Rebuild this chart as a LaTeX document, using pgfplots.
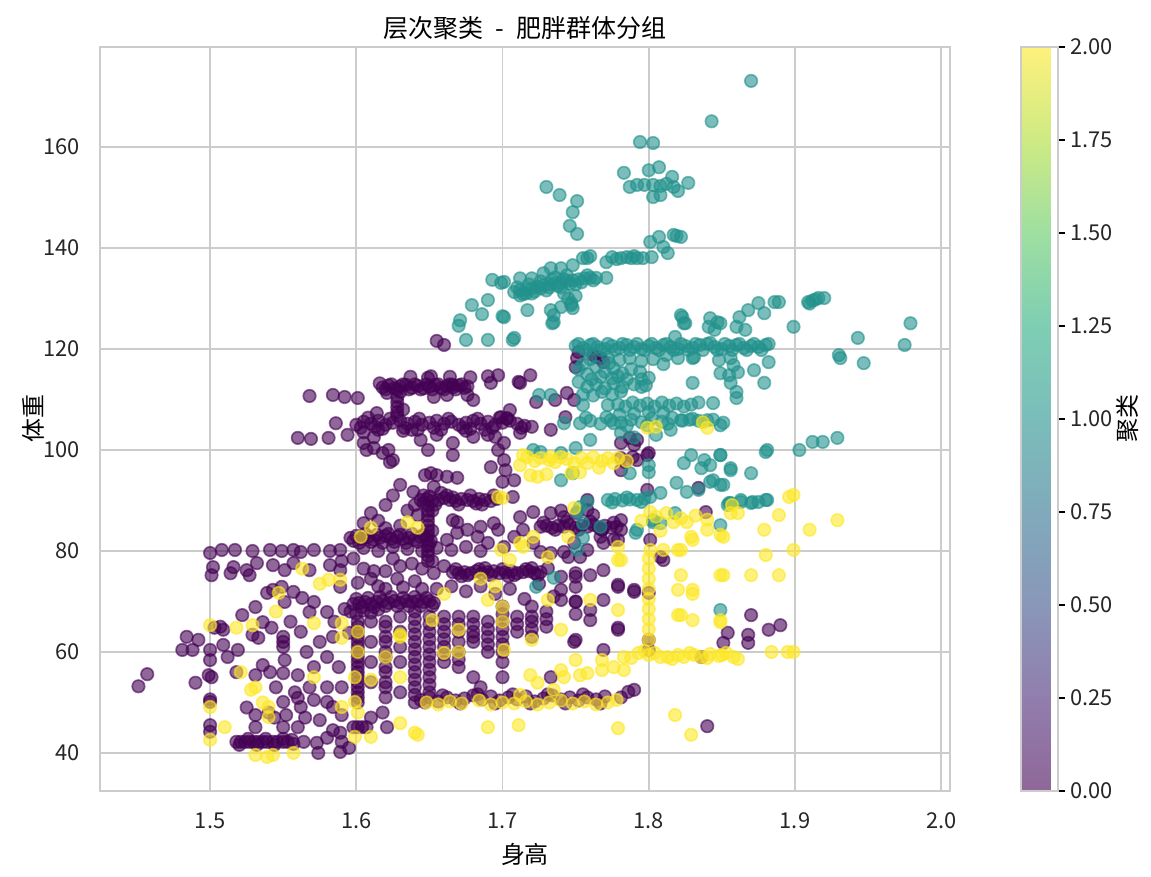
\documentclass[border=0pt]{standalone}
\usepackage{fontspec}
\setmainfont{Noto Sans CJK SC}
\usepackage{pgfplots}
\pgfplotsset{compat=1.18}
\usepackage{pgfplotstable}

\definecolor{vpurple}{HTML}{440154}
\definecolor{vteal}{HTML}{21918C}
\definecolor{vyellow}{HTML}{FDE725}
\definecolor{gridgray}{HTML}{CCCCCC}

% viridis seen through alpha 0.6 on white, as in the colorbar
\pgfplotsset{colormap={viridisfaded}{
  rgb255=(143,103,152) rgb255=(145,126,174) rgb255=(137,151,185)
  rgb255=(128,170,187) rgb255=(122,189,186) rgb255=(126,206,179)
  rgb255=(158,223,161) rgb255=(206,234,131) rgb255=(254,241,124)}}

% cluster 0
\pgfplotstableread{
x y
1.451 53.2
1.457 55.6
1.481 60.4
1.484 63.0
1.488 60.4
1.492 62.4
1.490 53.9
1.500 60.4
1.500 58.4
1.499 55.4
1.501 55.0
1.500 50.1
1.500 50.6
1.500 45.5
1.500 44.2
1.503 64.8
1.507 65.0
1.509 64.4
1.509 61.4
1.512 59.0
1.519 60.4
1.518 56.0
1.531 55.4
1.531 68.9
1.522 67.3
1.536 65.9
1.542 64.8
1.529 63.4
1.533 62.8
1.536 57.4
1.541 56.0
1.502 76.8
1.501 75.2
1.516 76.8
1.514 75.6
1.525 76.2
1.527 75.2
1.532 77.6
1.543 77.2
1.551 76.2
1.557 77.6
1.568 76.2
1.582 77.2
1.589 76.2
1.601 73.7
1.589 72.9
1.539 71.7
1.543 72.3
1.549 72.9
1.551 69.9
1.557 71.9
1.563 70.7
1.571 69.9
1.568 67.9
1.580 67.9
1.550 63.0
1.550 62.0
1.550 61.0
1.551 58.4
1.550 55.8
1.560 55.4
1.571 57.0
1.580 59.0
1.584 63.0
1.595 63.8
1.580 53.0
1.590 53.0
1.571 50.5
1.580 50.1
1.584 49.1
1.550 50.1
1.560 50.9
1.562 49.1
1.550 45.1
1.560 45.1
1.531 45.1
1.531 47.5
1.525 49.0
1.540 48.0
1.544 47.0
1.552 47.5
1.565 47.0
1.575 46.5
1.590 47.5
1.610 47.0
1.618 48.0
1.518 42.2
1.521 42.2
1.524 42.2
1.527 42.2
1.530 42.2
1.533 42.2
1.536 42.2
1.539 42.2
1.543 42.2
1.546 42.2
1.550 42.2
1.553 42.2
1.557 41.8
1.564 42.2
1.573 42.0
1.574 40.0
1.589 40.2
1.590 42.2
1.584 44.5
1.589 44.0
1.598 45.1
1.601 45.1
1.604 45.1
1.607 45.1
1.621 45.1
1.595 41.0
1.580 43.0
1.520 41.6
1.526 42.8
1.532 41.6
1.538 42.8
1.544 41.6
1.550 42.8
1.556 42.6
1.500 79.6
1.508 80.2
1.517 80.2
1.529 80.0
1.541 80.2
1.549 80.0
1.557 80.2
1.562 79.8
1.571 80.2
1.582 80.0
1.589 80.2
1.598 78.5
1.590 78.0
1.596 82.6
1.600 83.0
1.604 82.4
1.608 82.8
1.612 82.2
1.616 82.6
1.620 83.0
1.624 82.4
1.628 82.8
1.632 82.4
1.636 82.6
1.640 82.2
1.644 82.8
1.648 82.4
1.651 82.0
1.598 82.0
1.602 81.6
1.606 83.4
1.610 81.8
1.614 83.2
1.618 81.6
1.622 83.4
1.626 81.8
1.630 83.2
1.634 81.6
1.638 83.4
1.642 81.8
1.646 83.2
1.650 81.4
1.605 80.6
1.615 80.0
1.625 80.8
1.635 80.4
1.645 80.0
1.655 80.6
1.665 80.2
1.675 80.8
1.685 80.0
1.598 69.5
1.602 69.7
1.606 69.9
1.610 69.5
1.614 69.9
1.618 70.1
1.622 69.7
1.626 70.1
1.630 69.7
1.634 70.1
1.638 69.9
1.642 70.1
1.646 69.9
1.650 70.1
1.653 69.7
1.600 70.5
1.604 68.9
1.608 70.7
1.612 68.9
1.616 70.9
1.620 69.1
1.624 70.9
1.628 69.1
1.632 70.7
1.636 69.1
1.640 70.9
1.644 69.1
1.648 70.7
1.652 69.1
1.596 68.0
1.600 67.6
1.605 68.2
1.610 67.8
1.615 68.4
1.601 66.0
1.601 65.0
1.601 64.0
1.601 63.0
1.601 62.0
1.601 61.0
1.601 60.0
1.601 59.0
1.601 58.0
1.601 57.0
1.601 56.0
1.601 55.0
1.601 54.0
1.601 53.0
1.601 52.0
1.601 51.0
1.601 50.0
1.610 66.0
1.610 62.0
1.610 58.0
1.610 54.0
1.620 66.0
1.620 65.0
1.620 63.0
1.620 62.0
1.620 60.0
1.620 59.0
1.620 57.0
1.620 56.0
1.620 54.0
1.620 53.0
1.620 51.0
1.630 67.0
1.630 64.0
1.630 61.0
1.630 58.0
1.630 52.0
1.640 68.0
1.640 66.5
1.640 65.0
1.640 63.5
1.640 62.0
1.640 60.5
1.640 59.0
1.640 57.5
1.640 56.0
1.640 54.5
1.640 53.0
1.640 51.5
1.640 50.0
1.650 67.0
1.650 65.5
1.650 64.0
1.650 62.5
1.650 61.0
1.650 59.5
1.650 58.0
1.650 56.5
1.650 55.0
1.650 53.5
1.650 52.0
1.660 67.0
1.660 65.5
1.660 64.0
1.660 62.5
1.660 61.0
1.660 59.5
1.660 58.0
1.670 67.0
1.670 65.5
1.670 64.0
1.670 62.0
1.670 60.0
1.670 58.5
1.670 57.0
1.680 67.0
1.680 65.5
1.680 64.0
1.680 63.0
1.680 62.0
1.690 66.0
1.690 64.5
1.690 63.0
1.690 61.5
1.690 60.0
1.700 69.0
1.700 67.5
1.700 66.0
1.700 64.5
1.700 63.0
1.700 61.5
1.700 60.0
1.700 58.0
1.710 67.0
1.710 65.5
1.710 64.0
1.720 69.0
1.720 66.0
1.720 64.5
1.720 63.0
1.730 68.0
1.730 66.5
1.730 65.0
1.740 74.9
1.740 72.3
1.740 70.3
1.750 74.9
1.750 72.9
1.750 70.0
1.750 67.5
1.750 62.4
1.760 68.3
1.760 66.3
1.769 70.3
1.769 60.4
1.779 72.9
1.779 64.4
1.779 64.8
1.790 71.9
1.800 71.7
1.800 62.4
1.800 60.4
1.555 66.0
1.562 64.0
1.566 60.0
1.575 62.0
1.585 66.0
1.592 68.5
1.588 57.0
1.568 53.0
1.558 52.0
1.545 53.0
1.666 75.8
1.670 75.6
1.674 75.8
1.678 75.6
1.682 76.0
1.686 75.6
1.690 75.8
1.694 76.0
1.698 75.6
1.702 75.8
1.706 76.0
1.710 75.6
1.714 75.8
1.718 76.0
1.722 75.6
1.726 75.8
1.668 76.4
1.676 75.2
1.684 76.4
1.692 75.2
1.700 76.4
1.708 75.2
1.716 76.4
1.724 75.2
1.672 75.0
1.688 76.6
1.704 75.0
1.720 76.6
1.640 74.0
1.645 76.5
1.630 77.0
1.620 76.0
1.610 74.5
1.655 72.5
1.665 73.0
1.675 72.0
1.685 73.0
1.695 71.5
1.705 72.5
1.715 70.5
1.725 73.5
1.735 71.0
1.620 72.5
1.632 72.8
1.605 76.5
1.653 75.6
1.612 76.0
1.625 78.5
1.638 77.5
1.652 78.0
1.615 73.0
1.628 74.5
1.645 72.5
1.660 77.0
1.726 79.8
1.733 79.6
1.745 78.8
1.753 78.8
1.731 76.6
1.760 75.2
1.769 76.2
1.750 75.6
1.779 73.3
1.790 72.3
1.810 78.2
1.726 84.8
1.730 85.0
1.734 84.6
1.738 85.0
1.742 84.8
1.746 85.2
1.750 84.6
1.754 85.0
1.758 84.8
1.762 85.2
1.766 84.6
1.770 85.0
1.774 84.6
1.778 84.8
1.728 85.6
1.736 84.2
1.744 85.8
1.752 84.2
1.760 85.8
1.768 84.2
1.776 85.6
1.781 86.1
1.781 84.2
1.779 82.2
1.769 81.6
1.758 80.2
1.749 81.6
1.742 79.8
1.721 81.6
1.714 84.2
1.708 82.8
1.701 80.8
1.697 84.2
1.690 81.6
1.683 82.8
1.676 84.2
1.669 83.6
1.662 82.2
1.666 86.1
1.685 84.8
1.694 85.5
1.712 86.7
1.721 87.7
1.733 87.5
1.742 86.7
1.751 87.5
1.758 88.1
1.762 87.1
1.768 84.2
1.808 78.8
1.801 82.2
1.767 82.8
1.776 82.2
1.758 90.1
1.740 88.0
1.644 90.1
1.648 90.3
1.652 89.9
1.656 90.1
1.660 90.5
1.664 90.1
1.668 89.9
1.672 90.3
1.676 90.1
1.680 89.9
1.684 90.3
1.688 90.1
1.692 89.9
1.696 90.3
1.646 91.0
1.654 89.2
1.662 91.0
1.670 89.2
1.678 91.0
1.686 89.2
1.694 91.0
1.650 90.8
1.666 90.6
1.682 89.4
1.649 89.0
1.649 88.0
1.649 87.0
1.649 86.0
1.649 85.0
1.649 84.0
1.649 83.0
1.649 81.0
1.649 80.0
1.649 79.0
1.649 78.0
1.652 88.0
1.652 84.0
1.653 92.7
1.658 91.5
1.651 95.4
1.655 95.0
1.662 94.7
1.669 94.5
1.669 85.7
1.630 93.1
1.639 91.7
1.640 89.1
1.642 87.1
1.620 89.1
1.625 91.0
1.635 88.0
1.630 85.0
1.620 84.5
1.615 86.0
1.605 85.5
1.610 87.5
1.646 89.5
1.647 95.0
1.655 121.6
1.660 120.8
1.584 110.9
1.592 110.5
1.601 110.3
1.568 110.7
1.614 107.3
1.586 105.3
1.594 103.0
1.560 102.4
1.569 102.2
1.581 102.4
1.605 101.4
1.618 99.4
1.623 97.6
1.607 100.0
1.612 100.4
1.622 100.0
1.625 98.0
1.644 102.0
1.649 100.0
1.655 103.0
1.666 101.4
1.666 99.0
1.680 102.6
1.690 103.0
1.695 102.6
1.701 101.4
1.697 100.0
1.701 98.0
1.692 96.6
1.702 96.0
1.700 93.7
1.707 90.7
1.708 94.0
1.618 112.4
1.622 112.8
1.626 112.2
1.630 112.6
1.634 112.9
1.638 112.3
1.642 112.7
1.646 112.2
1.650 112.6
1.654 112.9
1.658 112.3
1.662 112.7
1.666 112.4
1.670 112.8
1.674 112.3
1.620 112.0
1.624 113.0
1.628 112.0
1.632 113.0
1.636 112.0
1.640 113.0
1.644 112.0
1.648 113.0
1.652 112.0
1.656 113.0
1.660 112.0
1.664 113.0
1.668 112.0
1.672 113.0
1.676 112.6
1.616 113.2
1.637 114.5
1.649 114.3
1.651 114.6
1.664 114.5
1.678 114.4
1.690 114.6
1.697 114.8
1.712 113.3
1.719 114.8
1.621 111.3
1.630 111.5
1.628 110.5
1.628 109.5
1.628 108.5
1.628 107.5
1.628 106.8
1.632 108.0
1.666 112.9
1.676 110.9
1.680 109.9
1.662 110.9
1.653 110.5
1.692 113.3
1.711 113.5
1.723 109.5
1.736 109.9
1.744 111.3
1.749 109.9
1.743 106.5
1.733 104.0
1.712 103.4
1.705 107.9
1.703 106.3
1.699 106.5
1.600 105.0
1.605 105.6
1.610 105.2
1.615 105.8
1.620 105.0
1.625 105.4
1.630 105.8
1.635 105.2
1.640 105.6
1.645 105.0
1.650 105.4
1.655 105.8
1.660 105.2
1.665 105.6
1.670 105.0
1.675 105.4
1.680 105.8
1.685 105.2
1.690 105.6
1.695 105.0
1.700 105.4
1.705 105.8
1.710 105.2
1.715 104.8
1.720 104.6
1.603 104.4
1.613 104.6
1.623 106.2
1.633 104.4
1.643 106.2
1.653 104.4
1.663 106.2
1.673 104.4
1.683 106.2
1.693 104.4
1.703 106.2
1.713 104.4
1.608 106.4
1.618 104.2
1.638 104.0
1.658 104.0
1.678 104.2
1.698 106.4
1.605 103.5
1.615 104.0
1.612 102.5
1.632 103.8
1.642 104.0
1.675 103.8
1.688 104.0
1.751 118.2
1.750 116.4
1.762 118.8
1.767 118.2
1.769 117.4
1.752 119.4
1.764 118.4
1.781 101.4
1.787 102.4
1.790 101.0
1.792 102.0
1.781 98.4
1.784 97.6
1.789 98.6
1.792 98.0
1.781 96.0
1.800 99.4
1.799 99.0
1.799 92.1
1.834 92.5
1.839 87.7
1.870 67.3
1.868 63.4
1.868 61.8
1.882 64.4
1.890 65.3
1.854 63.8
1.851 61.8
1.836 59.0
1.840 45.3
1.644 50.5
1.650 51.0
1.656 50.2
1.662 51.0
1.668 50.4
1.674 50.8
1.680 51.4
1.686 50.6
1.692 51.2
1.698 50.4
1.704 51.0
1.710 50.6
1.716 51.2
1.722 50.2
1.728 50.8
1.734 51.4
1.740 50.6
1.746 51.0
1.752 50.4
1.758 51.0
1.764 50.6
1.770 51.2
1.647 50.0
1.659 51.4
1.671 49.8
1.683 51.6
1.695 49.8
1.707 51.6
1.719 49.8
1.731 51.6
1.743 49.8
1.755 51.6
1.767 49.8
1.781 51.0
1.786 52.1
1.790 52.5
1.685 53.0
1.680 55.0
1.700 55.0
1.733 55.0
1.749 62.0
1.720 67.0
1.750 69.9
}\clusterzero

% cluster 1
\pgfplotstableread{
x y
1.870 173.1
1.843 165.1
1.794 161.0
1.803 160.8
1.783 154.9
1.800 155.4
1.807 156.0
1.816 154.1
1.827 152.9
1.787 152.1
1.792 152.5
1.797 152.5
1.803 152.5
1.808 152.3
1.812 152.7
1.817 152.1
1.820 151.3
1.803 150.1
1.808 150.5
1.730 152.1
1.739 150.5
1.751 149.3
1.748 147.1
1.746 144.4
1.751 142.8
1.801 141.2
1.807 142.2
1.817 142.6
1.822 142.2
1.819 142.4
1.810 140.2
1.813 139.0
1.802 138.2
1.792 138.0
1.788 138.0
1.785 138.2
1.781 138.0
1.775 138.2
1.771 137.2
1.758 138.0
1.755 138.0
1.748 136.6
1.760 138.4
1.778 137.8
1.790 138.4
1.796 138.0
1.771 134.1
1.708 131.3
1.712 131.6
1.716 131.8
1.720 132.0
1.724 132.4
1.728 132.6
1.732 132.8
1.736 133.0
1.740 133.2
1.744 133.5
1.748 133.6
1.752 133.8
1.756 134.0
1.760 134.1
1.764 134.1
1.710 132.2
1.714 130.9
1.722 131.4
1.726 132.0
1.732 132.2
1.738 132.5
1.742 133.8
1.746 132.9
1.754 133.2
1.758 134.6
1.762 133.6
1.716 131.0
1.736 134.2
1.712 130.6
1.720 131.0
1.730 131.6
1.740 132.2
1.750 132.8
1.718 132.8
1.726 133.4
1.734 133.8
1.744 134.6
1.733 136.0
1.740 136.0
1.728 135.0
1.720 134.0
1.712 134.0
1.701 133.3
1.717 127.7
1.734 125.1
1.735 126.7
1.740 128.3
1.747 129.1
1.748 128.1
1.701 126.3
1.708 122.2
1.733 127.7
1.735 125.3
1.747 128.7
1.745 130.0
1.750 130.5
1.742 131.0
1.679 128.7
1.686 126.9
1.671 125.7
1.670 124.6
1.675 121.8
1.690 129.7
1.693 133.7
1.699 133.1
1.700 126.5
1.707 121.8
1.690 121.8
1.823 126.3
1.825 125.1
1.842 126.1
1.849 125.1
1.862 126.3
1.868 127.7
1.875 129.1
1.879 127.1
1.886 129.3
1.889 129.3
1.899 124.4
1.909 129.3
1.912 129.6
1.914 129.8
1.916 130.1
1.920 130.1
1.910 129.0
1.979 125.1
1.975 120.8
1.943 122.2
1.841 124.4
1.847 125.3
1.860 124.4
1.930 118.8
1.931 118.2
1.947 117.2
1.822 126.7
1.818 122.4
1.845 123.8
1.866 123.8
1.824 125.1
1.882 117.4
1.872 115.8
1.879 113.3
1.861 115.4
1.855 114.8
1.860 111.5
1.860 110.3
1.856 113.3
1.849 115.2
1.848 117.8
1.856 118.2
1.830 113.3
1.830 118.2
1.844 109.3
1.822 105.9
1.828 106.0
1.834 105.8
1.840 105.9
1.849 104.9
1.880 99.6
1.903 100.0
1.912 101.6
1.919 101.6
1.929 102.4
1.849 99.0
1.856 96.0
1.870 95.4
1.849 93.1
1.842 93.7
1.880 90.1
1.875 89.7
1.870 89.5
1.863 89.7
1.855 89.5
1.849 85.1
1.849 68.3
1.858 116.8
1.820 118.2
1.831 118.4
1.812 118.8
1.800 114.3
1.795 112.5
1.750 120.6
1.755 120.2
1.760 120.8
1.765 120.4
1.770 120.0
1.775 120.6
1.780 120.2
1.785 120.8
1.790 120.4
1.795 120.0
1.800 120.6
1.805 120.2
1.810 120.8
1.815 120.4
1.820 120.0
1.825 120.6
1.830 120.2
1.835 120.8
1.840 121.0
1.845 120.4
1.850 120.0
1.855 120.6
1.860 120.8
1.865 120.2
1.870 120.6
1.875 120.4
1.880 120.8
1.752 121.0
1.757 119.8
1.762 121.0
1.767 119.8
1.772 121.0
1.777 119.8
1.782 121.0
1.787 119.8
1.792 121.0
1.797 119.8
1.802 121.0
1.807 119.8
1.812 121.0
1.817 119.8
1.822 121.0
1.827 119.8
1.832 121.0
1.837 119.8
1.842 121.2
1.847 119.8
1.852 121.0
1.857 119.8
1.862 121.0
1.867 119.8
1.872 121.0
1.877 119.8
1.882 121.0
1.752 116.0
1.758 115.0
1.764 116.5
1.770 115.5
1.776 116.2
1.782 115.2
1.788 116.0
1.794 115.5
1.752 113.5
1.758 112.5
1.764 113.0
1.770 112.2
1.776 113.2
1.782 112.5
1.790 113.0
1.798 112.8
1.755 111.0
1.762 110.8
1.768 111.5
1.775 111.0
1.781 111.6
1.755 117.0
1.761 114.0
1.767 114.5
1.773 117.2
1.779 114.6
1.760 118.0
1.772 118.4
1.780 117.8
1.787 118.2
1.795 117.6
1.803 118.0
1.810 117.0
1.775 114.2
1.785 114.0
1.795 114.0
1.779 109.0
1.784 108.6
1.789 109.4
1.794 108.8
1.799 109.2
1.804 108.6
1.809 109.4
1.814 108.8
1.819 109.2
1.824 108.6
1.829 109.0
1.834 109.4
1.753 105.3
1.760 105.8
1.767 105.2
1.774 105.9
1.781 105.4
1.788 106.0
1.795 105.5
1.802 106.2
1.809 105.6
1.816 106.4
1.823 105.8
1.830 106.2
1.837 105.6
1.844 106.0
1.851 105.4
1.757 106.4
1.771 106.5
1.785 104.8
1.799 104.9
1.813 105.2
1.790 107.2
1.800 107.5
1.810 107.4
1.780 107.0
1.781 103.4
1.790 102.5
1.805 103.0
1.815 104.0
1.760 102.0
1.750 100.4
1.740 99.4
1.733 110.9
1.755 108.9
1.772 108.9
1.776 105.3
1.725 110.9
1.742 105.3
1.721 100.0
1.726 99.6
1.748 95.4
1.740 94.0
1.772 90.1
1.777 90.3
1.782 90.0
1.787 90.2
1.792 90.1
1.797 90.4
1.801 90.7
1.775 89.6
1.785 90.6
1.795 89.7
1.808 91.5
1.819 93.5
1.826 91.7
1.834 92.1
1.844 94.0
1.851 93.1
1.856 89.5
1.863 90.1
1.871 89.7
1.881 90.1
1.824 97.4
1.829 99.0
1.838 98.0
1.836 96.4
1.842 97.0
1.849 99.0
1.856 96.4
1.881 100.0
1.800 97.0
1.800 95.6
1.787 95.4
1.803 86.1
1.808 85.5
1.818 87.5
1.854 89.1
1.791 83.6
1.755 82.6
1.751 80.2
1.758 89.7
1.753 88.7
1.751 87.7
1.755 85.5
1.767 84.8
1.792 84.2
1.803 85.7
1.723 72.9
1.735 74.7
}\clusterone

% cluster 2
\pgfplotstableread{
x y
1.500 65.3
1.518 64.8
1.529 65.3
1.547 71.7
1.581 74.3
1.589 74.3
1.521 56.0
1.531 53.0
1.500 49.1
1.510 45.1
1.500 42.6
1.540 49.1
1.540 47.1
1.531 39.6
1.539 39.2
1.543 39.6
1.557 40.0
1.571 55.0
1.571 65.7
1.590 65.7
1.590 62.8
1.640 44.0
1.630 45.9
1.610 43.2
1.610 54.5
1.620 59.0
1.630 55.0
1.630 63.0
1.599 55.0
1.599 50.1
1.601 60.0
1.601 64.0
1.601 48.0
1.642 43.6
1.599 43.2
1.590 49.1
1.630 63.4
1.670 64.4
1.670 60.0
1.701 60.4
1.700 68.9
1.700 66.0
1.690 70.3
1.720 62.4
1.690 45.1
1.711 45.5
1.652 66.3
1.660 59.8
1.563 76.5
1.575 73.5
1.545 68.0
1.528 52.5
1.536 50.0
1.635 85.7
1.642 84.6
1.610 84.6
1.603 82.8
1.700 90.5
1.714 99.0
1.719 95.0
1.732 98.0
1.714 80.8
1.717 98.6
1.726 98.4
1.733 98.6
1.740 98.6
1.749 97.4
1.758 97.4
1.762 98.6
1.772 98.4
1.779 98.4
1.722 97.8
1.736 97.6
1.744 98.2
1.754 98.4
1.768 97.8
1.776 97.4
1.724 94.7
1.747 95.4
1.753 95.6
1.712 97.0
1.730 95.2
1.766 96.5
1.785 97.8
1.799 104.4
1.805 104.6
1.840 104.4
1.837 105.5
1.801 87.7
1.817 85.7
1.826 85.7
1.829 82.8
1.801 80.2
1.820 80.2
1.749 88.5
1.779 80.8
1.781 78.2
1.721 82.8
1.712 81.6
1.699 80.2
1.705 78.2
1.731 78.8
1.745 82.8
1.697 90.7
1.795 86.0
1.805 86.8
1.812 87.5
1.822 86.5
1.832 87.0
1.840 86.2
1.808 84.0
1.896 90.7
1.899 91.1
1.889 87.1
1.879 84.2
1.910 84.2
1.929 86.1
1.880 79.2
1.899 80.2
1.849 75.2
1.870 75.2
1.889 75.2
1.830 72.3
1.830 71.5
1.830 66.3
1.849 65.9
1.822 67.3
1.822 75.2
1.822 80.2
1.830 82.2
1.840 84.2
1.849 83.2
1.857 89.1
1.856 87.5
1.861 87.5
1.884 60.0
1.895 60.0
1.899 60.0
1.820 72.3
1.820 67.3
1.851 75.2
1.849 66.3
1.851 82.8
1.810 80.2
1.779 68.3
1.779 78.2
1.731 70.3
1.760 70.3
1.740 64.4
1.800 62.4
1.800 64.5
1.800 66.5
1.800 68.5
1.800 70.5
1.800 72.5
1.800 74.5
1.800 76.5
1.800 78.5
1.719 55.4
1.724 53.9
1.740 56.4
1.742 55.0
1.750 58.4
1.753 55.4
1.758 55.8
1.768 56.4
1.768 58.4
1.776 57.0
1.783 56.4
1.788 58.8
1.793 59.8
1.800 59.4
1.808 59.0
1.813 59.0
1.820 59.4
1.824 59.0
1.831 59.4
1.836 59.0
1.842 59.6
1.848 59.2
1.853 59.8
1.858 59.0
1.861 58.6
1.804 59.8
1.816 58.6
1.828 59.8
1.840 58.8
1.850 59.4
1.783 59.0
1.797 60.2
1.648 50.0
1.656 49.6
1.664 50.2
1.672 49.8
1.684 50.4
1.692 49.6
1.700 50.0
1.708 49.8
1.716 50.2
1.724 49.6
1.732 50.0
1.740 50.4
1.748 49.8
1.756 50.2
1.764 49.6
1.772 50.0
1.778 50.5
1.712 51.5
1.735 52.5
1.779 44.9
1.818 47.5
1.829 43.6
1.685 74.5
1.695 73.0
1.660 71.5
}\clustertwo

\pgfplotsset{
  dot/.style={only marks, mark=*, mark size=3.0pt,
    mark options={draw=#1, fill=#1, fill opacity=0.6, draw opacity=0.6, line width=0.8pt}},
}

\begin{document}
\begin{tikzpicture}
\begin{axis}[
    at={(0,0)}, anchor=south west,
    scale only axis,
    width=408pt, height=357pt,
    xmin=1.4247, xmax=2.006,
    ymin=32.5, ymax=179.8,
    xtick={1.5,1.6,1.7,1.8,1.9,2.0},
    xticklabels={1.5,1.6,1.7,1.8,1.9,2.0},
    ytick={40,60,80,100,120,140,160},
    /pgf/number format/assume math mode=true,
    major tick length=0pt,
    grid=major,
    grid style={draw=gridgray, line width=0.8pt},
    axis line style={draw=gridgray, line width=1.1pt},
    tick label style={font=\fontsize{10.5}{12}\selectfont, text=black!85},
    xticklabel style={yshift=-7pt},
    yticklabel style={xshift=-6pt},
    xlabel={身高},
    ylabel={体重},
    xlabel style={font=\fontsize{11.5}{13}\selectfont},
    ylabel style={font=\fontsize{11.5}{13}\selectfont, yshift=-7pt},
    title={层次聚类{\hspace{0.5em}}-{\hspace{0.5em}}肥胖群体分组},
    title style={font=\fontsize{12}{14}\selectfont, yshift=-6pt},
    colormap name=viridisfaded,
    point meta min=0, point meta max=2,
    colorbar,
    colorbar style={
      at={(parent axis.north east)}, anchor=north west,
      xshift=25.4pt,
      width=17.8pt,
      ytick={0,0.25,0.5,0.75,1,1.25,1.5,1.75,2},
      yticklabel pos=right,
      ytick pos=right,
      /pgf/number format/assume math mode=true,
      yticklabel style={/pgf/number format/.cd, fixed, fixed zerofill, precision=2,
        /tikz/.cd, font=\fontsize{10.5}{12}\selectfont, text=black!85, xshift=-1pt},
      major tick length=3.5pt,
      tick align=outside,
      tick style={black, line width=1.2pt},
      axis line style={draw=gridgray, line width=1.1pt},
      ylabel={聚类},
      ylabel style={font=\fontsize{11.5}{13}\selectfont, yshift=5pt},
    },
]
\addplot[dot=vpurple] table {\clusterzero};
\addplot[dot=vteal] table {\clusterone};
\addplot[dot=vyellow] table {\clustertwo};
\end{axis}
\pgfresetboundingbox
\useasboundingbox (-48pt,-41.3pt) rectangle (504.5pt,379.6pt);
\end{tikzpicture}
\end{document}
